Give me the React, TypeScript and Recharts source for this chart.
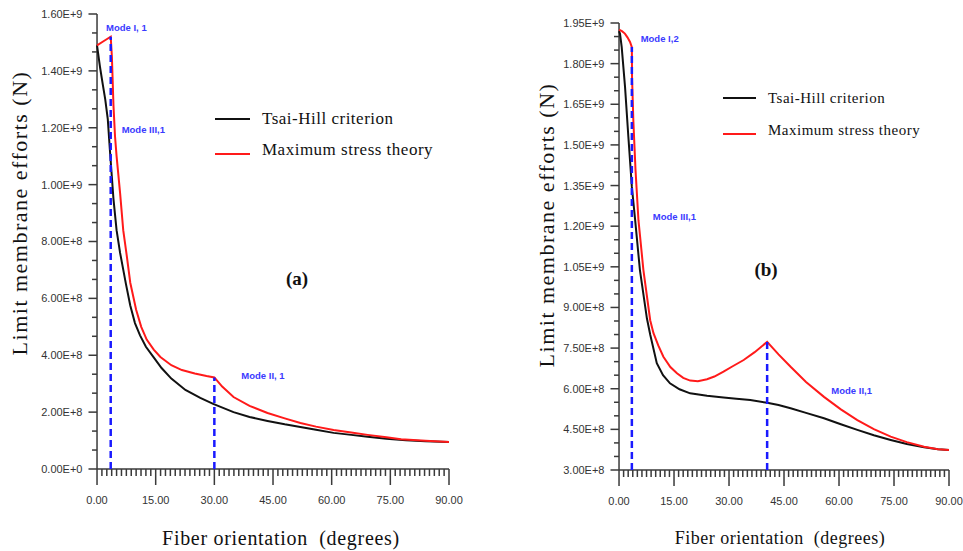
import React from 'react';
import { LineChart, Line, XAxis, YAxis, ReferenceLine, ReferenceDot, Legend } from 'recharts';

// ---------- axis ticks ----------
const fiberAngleTicks = [0, 15, 30, 45, 60, 75, 90];
const leftForceTicks = [0, 2e8, 4e8, 6e8, 8e8, 1e9, 1.2e9, 1.4e9, 1.6e9];
const rightForceTicks = [3e8, 4.5e8, 6e8, 7.5e8, 9e8, 1.05e9, 1.2e9, 1.35e9, 1.5e9, 1.65e9, 1.8e9, 1.95e9];

// ---------- series ----------
const seriesNames = ['Tsai-Hill criterion', 'Maximum stress theory'];
const seriesColors = ['#111111', '#ff1a1a'];

// ---------- panel (a) ----------
const leftTsaiAngle = [0, 0.8, 1.5, 2.1, 2.75, 3.3, 4.2, 5.0, 5.9, 7.4, 8.5, 9.7, 11, 12.5, 14.4, 16.5, 19, 22.6, 26.4, 29.7, 34.9, 39, 43.6, 48, 52, 56, 60.5, 65, 69.2, 74, 79, 84, 90];
const leftTsaiForce = [1.49e9, 1.41e9, 1.35e9, 1.30e9, 1.23e9, 1.12e9, 0.95e9, 0.84e9, 0.76e9, 0.65e9, 0.575e9, 0.513e9, 0.47e9, 0.43e9, 0.394e9, 0.355e9, 0.318e9, 0.278e9, 0.25e9, 0.229e9, 0.2e9, 0.183e9, 0.169e9, 0.157e9, 0.148e9, 0.138e9, 0.127e9, 0.12e9, 0.113e9, 0.106e9, 0.101e9, 0.098e9, 0.095e9];
const leftMaxAngle = [0, 1.75, 3.5, 3.8, 4.2, 4.6, 5.0, 5.9, 6.7, 7.6, 8.5, 10, 11.3, 12.7, 14.5, 16.2, 19, 21.7, 25, 28, 30, 32, 34.9, 39, 43.6, 48, 52, 56, 60.5, 65, 69.2, 74, 77.7, 84, 90];
const leftMaxForce = [1.49e9, 1.505e9, 1.52e9, 1.45e9, 1.28e9, 1.17e9, 1.1e9, 0.97e9, 0.84e9, 0.75e9, 0.655e9, 0.56e9, 0.5e9, 0.455e9, 0.42e9, 0.394e9, 0.365e9, 0.348e9, 0.336e9, 0.327e9, 0.322e9, 0.29e9, 0.253e9, 0.222e9, 0.197e9, 0.178e9, 0.162e9, 0.149e9, 0.137e9, 0.128e9, 0.12e9, 0.112e9, 0.105e9, 0.099e9, 0.095e9];
const leftModeAngles = [3.5, 30];
const leftModeForces = [1.52e9, 0.322e9];
const leftNoteTexts = ['Mode I, 1', 'Mode III,1', 'Mode II, 1'];
const leftNoteAngles = [2.3, 6.3, 36.9];
const leftNoteForces = [1.554e9, 1.195e9, 0.33e9];

// ---------- panel (b) ----------
const rightTsaiAngle = [0, 0.27, 0.73, 1.64, 2.55, 3.5, 4.4, 5.7, 7.6, 8.5, 10.3, 12, 13.9, 16.5, 19.4, 24, 28.5, 32, 35.8, 40.4, 43.5, 46.8, 51, 55.9, 60.5, 65, 69.5, 74.1, 78.5, 83.2, 87, 90];
const rightTsaiForce = [1.92e9, 1.91e9, 1.861e9, 1.714e9, 1.529e9, 1.345e9, 1.222e9, 1.038e9, 0.86e9, 0.8e9, 0.694e9, 0.65e9, 0.62e9, 0.598e9, 0.583e9, 0.574e9, 0.568e9, 0.563e9, 0.558e9, 0.548e9, 0.54e9, 0.528e9, 0.511e9, 0.491e9, 0.469e9, 0.448e9, 0.428e9, 0.411e9, 0.396e9, 0.384e9, 0.377e9, 0.374e9];
const rightMaxAngle = [0, 0.8, 1.6, 2.3, 3.0, 3.5, 3.55, 3.9, 4.5, 5.3, 6.65, 8.5, 9.4, 10.7, 12.1, 14, 15.8, 17.5, 19.4, 21.5, 24, 26, 28.5, 31, 34, 37, 40.4, 43.5, 46.8, 51, 55.9, 60.5, 65, 69.5, 74.1, 78.5, 83.2, 87, 90];
const rightMaxForce = [1.925e9, 1.92e9, 1.911e9, 1.897e9, 1.88e9, 1.861e9, 1.75e9, 1.591e9, 1.407e9, 1.222e9, 1.038e9, 0.853e9, 0.805e9, 0.76e9, 0.718e9, 0.68e9, 0.657e9, 0.64e9, 0.63e9, 0.628e9, 0.635e9, 0.645e9, 0.663e9, 0.683e9, 0.706e9, 0.735e9, 0.773e9, 0.727e9, 0.681e9, 0.625e9, 0.57e9, 0.524e9, 0.484e9, 0.451e9, 0.423e9, 0.403e9, 0.386e9, 0.377e9, 0.374e9];
const rightModeAngles = [3.5, 40.4];
const rightModeForces = [1.861e9, 0.773e9];
const rightNoteTexts = ['Mode I,2', 'Mode III,1', 'Mode II,1'];
const rightNoteAngles = [5.9, 9.2, 57.9];
const rightNoteForces = [1.894e9, 1.237e9, 0.5925e9];

// ---------- helpers ----------
const zip = (xs: number[], ys: number[]) => xs.map((a, i) => ({ angle: a, force: ys[i] }));
const subdivide = (majors: number[], n: number) => {
  const out: number[] = [];
  for (let i = 0; i < majors.length - 1; i++) {
    for (let k = 0; k < n; k++) out.push(majors[i] + ((majors[i + 1] - majors[i]) * k) / n);
  }
  out.push(majors[majors.length - 1]);
  return out;
};
const fmtSci = (v: number) => v.toExponential(2).toUpperCase();

const AXIS = '#3a3a3a';
const LABEL = '#333';
const SANS = '"Liberation Sans", Arial, sans-serif';
const SERIF = '"Liberation Serif", "Times New Roman", serif';
const BLUE = '#1a1aff';
const NOTE = '#3a3aff';

const X_MINOR = 7;
const X_MAJOR = 16;
const Y_MINOR = 5;
const Y_MAJOR = 8.5;

type PanelProps = {
  width: number;
  height: number;
  top: number;
  axisX: number;
  axisY: number;
  rightX: number;
  yTicks: number[];
  tsai: { angle: number; force: number }[];
  maxs: { angle: number; force: number }[];
  modeAngles: number[];
  modeForces: number[];
  notes: { t: string; x: number; y: number }[];
  legendLeft: number;
  legendTop: number;
  legendRow: number;
  legendLine: number;
  legendFont: number;
};

function Panel(p: PanelProps) {
  const yMin = p.yTicks[0];
  const yMax = p.yTicks[p.yTicks.length - 1];
  const allY = subdivide(p.yTicks, 3);
  const allX = subdivide(fiberAngleTicks, 12);
  const isMajor = (arr: number[], v: number, tol: number) => arr.some((m) => Math.abs(m - v) < tol);

  const xPerPx = 90 / (p.rightX - p.axisX);
  const yPerPx = (yMax - yMin) / (p.axisY - p.top);
  const xLo = -Y_MAJOR * xPerPx;
  const yLo = yMin - X_MAJOR * yPerPx;
  const plotLeft = p.axisX - Y_MAJOR;
  const plotBottom = p.axisY + X_MAJOR;
  const xAxisHeight = 40;
  const margin = { top: p.top, right: p.width - p.rightX - 1, left: 0, bottom: p.height - plotBottom - xAxisHeight };

  // tick marks as tiny two-point line series drawn through the chart scales
  const tickSeries = [
    ...allX.map((a) => [
      { angle: a, force: yMin },
      { angle: a, force: yMin - (isMajor(fiberAngleTicks, a, 1e-6) ? X_MAJOR : X_MINOR) * yPerPx },
    ]),
    ...allY.map((v) => [
      { angle: 0, force: v },
      { angle: -(isMajor(p.yTicks, v, 1e3) ? Y_MAJOR : Y_MINOR) * xPerPx, force: v },
    ]),
  ];

  const yTick = (props: any) => (
    <text x={Number(props.x) - 6} y={Number(props.y)} dy="0.36em" textAnchor="end" fontSize={11} fill={LABEL} stroke="none" fontFamily={SANS}>
      {fmtSci(props.payload.value)}
    </text>
  );
  const xTick = (props: any) => (
    <text x={Number(props.x)} y={Number(props.y) + 15} dy="0.36em" textAnchor="middle" fontSize={11} fill={LABEL} stroke="none" fontFamily={SANS}>
      {Number(props.payload.value).toFixed(2)}
    </text>
  );

  const legendContent = () => (
    <div>
      {seriesNames.map((name, i) => (
        <div key={i} style={{ display: 'flex', alignItems: 'center', height: p.legendRow }}>
          <span style={{ display: 'inline-block', width: p.legendLine, height: 2, background: seriesColors[i], marginRight: 12, marginTop: i === 1 ? 8 : 0 }} />
          <span style={{ fontFamily: SERIF, fontSize: p.legendFont, letterSpacing: 0.5, color: '#111', whiteSpace: 'nowrap' }}>{name}</span>
        </div>
      ))}
    </div>
  );

  return (
    <LineChart width={p.width} height={p.height} margin={margin}>
      <XAxis
        type="number"
        dataKey="angle"
        domain={[xLo, 90]}
        ticks={fiberAngleTicks}
        interval={0}
        height={xAxisHeight}
        tickSize={0}
        tickMargin={0}
        tickLine={false}
        tick={xTick}
        axisLine={false}
      />
      <YAxis
        type="number"
        dataKey="force"
        domain={[yLo, yMax]}
        ticks={p.yTicks}
        interval={0}
        width={plotLeft}
        tickSize={0}
        tickMargin={0}
        tickLine={false}
        tick={yTick}
        axisLine={false}
      />
      <ReferenceLine ifOverflow="visible" segment={[{ x: 0, y: yMin }, { x: 0, y: yMax }]} stroke={AXIS} strokeWidth={1.5} />
      <ReferenceLine ifOverflow="visible" segment={[{ x: 0, y: yMin }, { x: 90, y: yMin }]} stroke={AXIS} strokeWidth={1.5} />
      {tickSeries.map((d, i) => (
        <Line
          key={'tick' + i}
          data={d}
          dataKey="force"
          type="linear"
          stroke={AXIS}
          strokeWidth={1.5}
          dot={false}
          activeDot={false}
          legendType="none"
          isAnimationActive={false}
        />
      ))}
      <Line data={p.tsai} dataKey="force" name={seriesNames[0]} type="linear" stroke={seriesColors[0]} strokeWidth={2} dot={false} activeDot={false} isAnimationActive={false} />
      <Line data={p.maxs} dataKey="force" name={seriesNames[1]} type="linear" stroke={seriesColors[1]} strokeWidth={2} dot={false} activeDot={false} isAnimationActive={false} />
      {p.modeAngles.map((a, i) => (
        <ReferenceLine
          key={'m' + i}
          ifOverflow="visible"
          segment={[{ x: a, y: yMin }, { x: a, y: p.modeForces[i] }]}
          stroke={BLUE}
          strokeWidth={2.5}
          strokeDasharray="7 4"
        />
      ))}
      {p.notes.map((n, i) => (
        <ReferenceDot
          key={'n' + i}
          x={n.x}
          y={n.y}
          r={0}
          ifOverflow="visible"
          shape={(sp: any) => (
            <text x={sp.cx} y={sp.cy} dy="0.36em" textAnchor="start" fontSize={9.5} fontWeight="bold" fill={NOTE} fontFamily={SANS}>
              {n.t}
            </text>
          )}
        />
      ))}
      <Legend
        layout="horizontal"
        verticalAlign="middle"
        align="center"
        content={legendContent}
        wrapperStyle={{ position: 'absolute', left: p.legendLeft, top: p.legendTop, width: 'auto' }}
      />
    </LineChart>
  );
}

const leftNotes = leftNoteTexts.map((t, i) => ({ t, x: leftNoteAngles[i], y: leftNoteForces[i] }));
const rightNotes = rightNoteTexts.map((t, i) => ({ t, x: rightNoteAngles[i], y: rightNoteForces[i] }));

export default function App() {
  const xTitle = 'Fiber orientation  (degrees)';
  const yTitle = 'Limit membrane efforts (N)';
  return (
    <div style={{ position: 'absolute', left: 0, top: 0, width: 963, height: 551, background: '#fff', overflow: 'hidden' }}>
      <div style={{ position: 'absolute', left: 0, top: 0 }}>
        <Panel
          width={480}
          height={551}
          top={14}
          axisX={97}
          axisY={469}
          rightX={448}
          yTicks={leftForceTicks}
          tsai={zip(leftTsaiAngle, leftTsaiForce)}
          maxs={zip(leftMaxAngle, leftMaxForce)}
          modeAngles={leftModeAngles}
          modeForces={leftModeForces}
          notes={leftNotes}
          legendLeft={215}
          legendTop={103.5}
          legendRow={31}
          legendLine={35}
          legendFont={17}
        />
      </div>
      <div style={{ position: 'absolute', left: 480, top: 0 }}>
        <Panel
          width={483}
          height={551}
          top={23}
          axisX={139}
          axisY={470}
          rightX={468}
          yTicks={rightForceTicks}
          tsai={zip(rightTsaiAngle, rightTsaiForce)}
          maxs={zip(rightMaxAngle, rightMaxForce)}
          modeAngles={rightModeAngles}
          modeForces={rightModeForces}
          notes={rightNotes}
          legendLeft={243}
          legendTop={82}
          legendRow={32}
          legendLine={33}
          legendFont={15}
        />
      </div>
      <div style={{ position: 'absolute', left: 281, top: 538, transform: 'translate(-50%, -50%)', fontFamily: SERIF, fontSize: 20, letterSpacing: 0.7, whiteSpace: 'pre', color: '#111' }}>{xTitle}</div>
      <div style={{ position: 'absolute', left: 780, top: 538, transform: 'translate(-50%, -50%)', fontFamily: SERIF, fontSize: 18, letterSpacing: 0.5, whiteSpace: 'pre', color: '#111' }}>{xTitle}</div>
      <div style={{ position: 'absolute', left: 20, top: 213, transform: 'translate(-50%, -50%) rotate(-90deg)', fontFamily: SERIF, fontSize: 22, letterSpacing: 1.5, whiteSpace: 'pre', color: '#111' }}>{yTitle}</div>
      <div style={{ position: 'absolute', left: 547, top: 225, transform: 'translate(-50%, -50%) rotate(-90deg)', fontFamily: SERIF, fontSize: 22, letterSpacing: 1.5, whiteSpace: 'pre', color: '#111' }}>{yTitle}</div>
      <div style={{ position: 'absolute', left: 297, top: 279, transform: 'translate(-50%, -50%)', fontFamily: SERIF, fontSize: 19, fontWeight: 'bold', color: '#111' }}>(a)</div>
      <div style={{ position: 'absolute', left: 766, top: 270, transform: 'translate(-50%, -50%)', fontFamily: SERIF, fontSize: 19, fontWeight: 'bold', color: '#111' }}>(b)</div>
    </div>
  );
}
